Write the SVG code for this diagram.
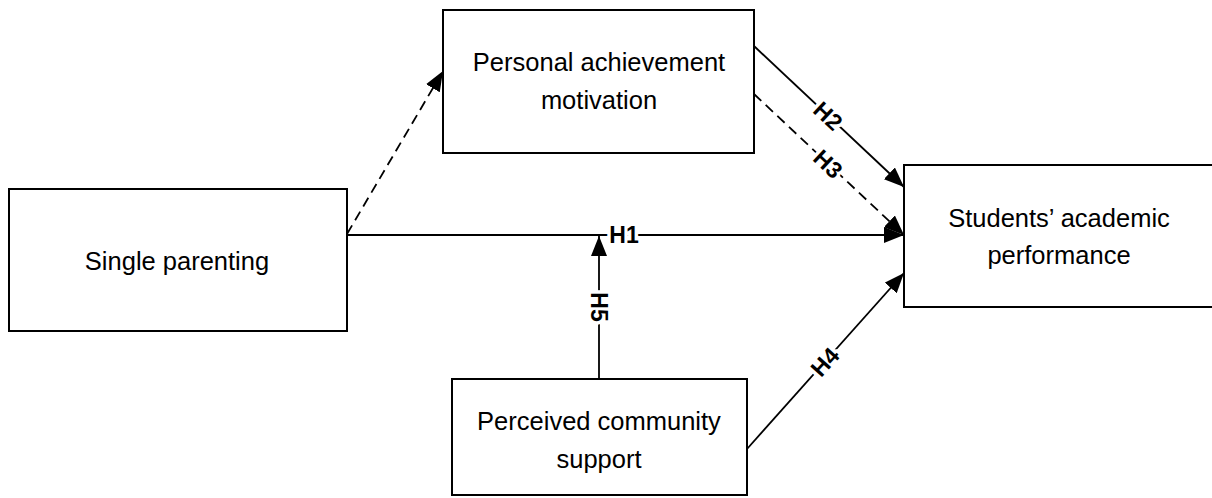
<svg xmlns="http://www.w3.org/2000/svg" width="1212" height="498" viewBox="0 0 1212 498">
<style>
.box{fill:#fff;stroke:#000;stroke-width:2}
.t{font-family:"Liberation Sans",Arial,sans-serif;font-size:25.5px;fill:#000;text-anchor:middle}
.c{fill:none;stroke:#000;stroke-width:1.8}
.d{stroke-dasharray:10 6}
.lb{font-family:"Liberation Sans",Arial,sans-serif;font-size:23px;font-weight:bold;fill:#000;text-anchor:middle;stroke:#fff;stroke-width:7;paint-order:stroke;stroke-linejoin:round}
</style>
<defs>
<marker id="ah" markerUnits="userSpaceOnUse" markerWidth="22" markerHeight="16" refX="20" refY="8" orient="auto">
<path d="M0,0 L20,8 L0,16 z" fill="#000"/>
</marker>
</defs>
<g id="connectors">
<line class="c d" x1="347" y1="234" x2="443" y2="71" marker-end="url(#ah)"/>
<line class="c" x1="347" y1="235" x2="904" y2="235" marker-end="url(#ah)"/>
<line class="c" x1="754" y1="46" x2="904" y2="187" marker-end="url(#ah)"/>
<line class="c d" x1="754" y1="94" x2="904" y2="235" marker-end="url(#ah)"/>
<line class="c" x1="747" y1="449" x2="904" y2="273" marker-end="url(#ah)"/>
<line class="c" x1="599" y1="379" x2="599" y2="236" marker-end="url(#ah)"/>
<text class="lb" x="624" y="243">H1</text>
<text class="lb" transform="translate(828,116) rotate(43)" y="8">H2</text>
<text class="lb" transform="translate(828,164) rotate(43)" y="8">H3</text>
<text class="lb" transform="translate(825,362) rotate(-48)" y="8">H4</text>
<text class="lb" transform="translate(599,307) rotate(90)" y="8">H5</text>
</g>
<g id="single">
<rect class="box" x="9" y="189" width="338" height="142"/>
<text class="t" x="177" y="270">Single parenting</text>
</g>
<g id="achievement">
<rect class="box" x="443" y="10" width="311" height="143"/>
<text class="t" x="599" y="71">Personal achievement</text>
<text class="t" x="599" y="109">motivation</text>
</g>
<g id="performance">
<rect class="box" x="904" y="165" width="320" height="142"/>
<text class="t" x="1059" y="227">Students’ academic</text>
<text class="t" x="1059" y="264">performance</text>
</g>
<g id="community">
<rect class="box" x="452" y="379" width="295" height="116"/>
<text class="t" x="599" y="430">Perceived community</text>
<text class="t" x="599" y="468">support</text>
</g>
</svg>
